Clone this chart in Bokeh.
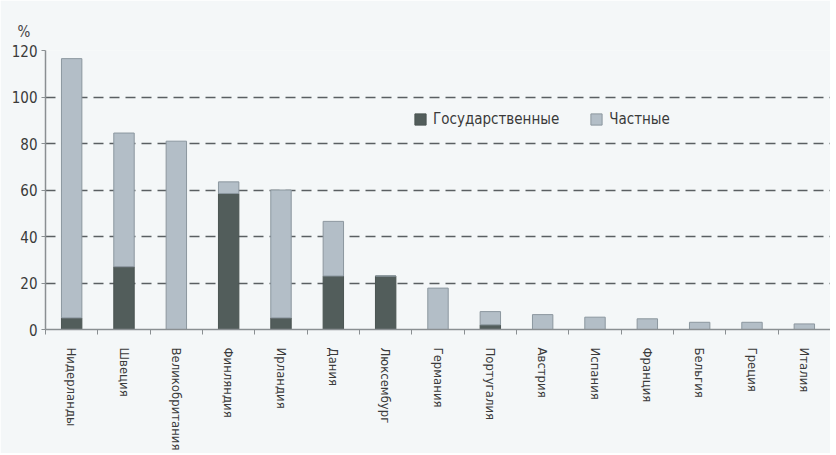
from bokeh.plotting import figure
from bokeh.models import Range1d, FixedTicker, Legend, LegendItem, ColumnDataSource
from bokeh.embed import file_html
from bokeh.resources import INLINE

countries = ["Нидерланды", "Швеция", "Великобритания", "Финляндия", "Ирландия",
             "Дания", "Люксембург", "Германия", "Португалия", "Австрия",
             "Испания", "Франция", "Бельгия", "Греция", "Италия"]
state = [5, 27, 0, 58.5, 5, 23, 23, 0, 2, 0, 0, 0, 0, 0, 0]
private = [111.5, 57.5, 81, 5, 55, 23.5, 0, 17.8, 5.7, 6.4, 5.3, 4.6, 3.1, 3.1, 2.4]
y_ticks = [0, 20, 40, 60, 80, 100, 120]
series_names = ["Государственные", "Частные"]

FONT = "DejaVu Sans Condensed"
BG = "#f4f7f8"
C_STATE = "#525d5b"
C_PRIV = "#b3bec7"

n = len(countries)
xs = [i + 0.5 for i in range(n)]
src = ColumnDataSource(dict(x=xs, state=state, private=private))

p = figure(frame_width=785, frame_height=279, output_backend="svg", toolbar_location=None,
           x_range=Range1d(0, n), y_range=Range1d(0, 120),
           title="%", min_border_left=45, min_border_right=0,
           min_border_top=50, min_border_bottom=100)
p.background_fill_color = BG
p.border_fill_color = BG
p.outline_line_color = None

p.title.align = "left"
p.title.offset = -28
p.title.text_font = FONT
p.title.text_font_size = "15px"
p.title.text_font_style = "normal"
p.title.text_color = "#444444"
p.title.standoff = 20

rs = p.vbar_stack(["state", "private"], x="x", width=0.39, source=src,
                  fill_color=[C_STATE, C_PRIV],
                  line_color=["#4a5452", "#8c979f"], line_width=1)

# axes
p.yaxis.ticker = FixedTicker(ticks=y_ticks)
p.yaxis.axis_line_color = "#8a8f92"
p.yaxis.axis_line_width = 1.5
p.yaxis.major_tick_line_color = "#8a8f92"
p.yaxis.major_tick_out = 4
p.yaxis.major_tick_in = 0
p.yaxis.minor_tick_line_color = None
p.yaxis.major_label_text_font = FONT
p.yaxis.major_label_text_font_size = "15px"
p.yaxis.major_label_text_color = "#3a3a3a"
p.yaxis.major_label_standoff = 4

p.xaxis.ticker = FixedTicker(ticks=xs, minor_ticks=list(range(n + 1)))
p.xaxis.major_label_overrides = {x: c for x, c in zip(xs, countries)}
p.xaxis.major_label_orientation = "vertical"
p.xaxis.axis_line_color = "#8a8f92"
p.xaxis.axis_line_width = 1.5
p.xaxis.major_tick_line_color = None
p.xaxis.minor_tick_line_color = "#8a8f92"
p.xaxis.minor_tick_out = 5
p.xaxis.minor_tick_in = 0
p.xaxis.major_label_text_font = FONT
p.xaxis.major_label_text_font_size = "13px"
p.xaxis.major_label_text_color = "#3a3a3a"
p.xaxis.major_label_standoff = 12

p.xgrid.grid_line_color = None
p.ygrid.ticker = FixedTicker(ticks=y_ticks[1:])
p.ygrid.grid_line_color = "#5a5f62"
p.ygrid.grid_line_dash = "10 6"
p.ygrid.grid_line_width = 1.4

legend = Legend(items=[LegendItem(label=series_names[0], renderers=[rs[0]]),
                       LegendItem(label=series_names[1], renderers=[rs[1]])],
                orientation="horizontal", location=(368, 201),
                background_fill_alpha=0, border_line_color=None,
                label_text_font=FONT, label_text_font_size="15px",
                label_text_color="#3a3a3a", glyph_width=14, glyph_height=14,
                spacing=30, label_standoff=6, padding=0, margin=0)
p.add_layout(legend, "center")

open("out.html", "w").write(file_html(p, INLINE))
